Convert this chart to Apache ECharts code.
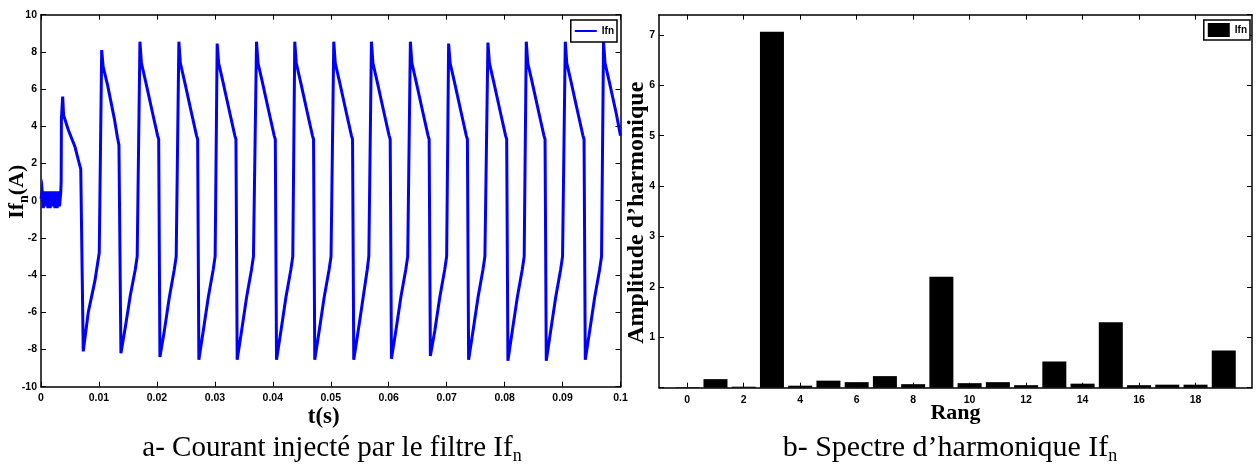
<!DOCTYPE html>
<html><head><meta charset="utf-8">
<script src="https://cdn.jsdelivr.net/npm/echarts@6/dist/echarts.min.js"></script>
<style>html,body{margin:0;padding:0;background:#fff}#c{width:1257px;height:467px}</style>
</head><body><div id="c"></div>
<script>
// ---- (a) injected current waveform ----
const timeS = [
  0,0.0002,0.0004,0.0006,0.0008,0.001,0.0012,0.0014,0.0016,0.0018,0.002,0.0022,0.0024,0.0026,0.0028,0.003,0.0032,0.0034,
  0.00348,0.00352,0.00374,0.0039,0.00472,0.00586,0.0066,0.00686,0.00729,0.00816,0.00931,0.01005,
  0.01047,0.01073,0.0115,0.01266,0.01319,0.01345,0.01379,0.01455,0.01541,0.01627,0.0166,
  0.01707,0.01733,0.0181,0.01926,0.02012,0.02031,0.02052,0.02128,0.02214,0.023,0.02333,
  0.02379,0.02405,0.02482,0.02598,0.02684,0.02703,0.02724,0.028,0.02886,0.02972,0.03005,
  0.0304,0.03066,0.03143,0.03259,0.03345,0.03364,0.03385,0.03461,0.03547,0.03633,0.03666,
  0.03719,0.03745,0.03822,0.03938,0.04024,0.04043,0.04064,0.0414,0.04226,0.04312,0.04345,
  0.04379,0.04405,0.04482,0.04598,0.04684,0.04703,0.04724,0.048,0.04886,0.04972,0.05005,
  0.05052,0.05078,0.05155,0.05271,0.05357,0.05376,0.05397,0.05473,0.05559,0.0563,0.05657,
  0.05702,0.05728,0.05805,0.05921,0.06007,0.06026,0.06047,0.06123,0.06209,0.06295,0.06328,
  0.06374,0.064,0.06477,0.06593,0.06679,0.06698,0.06719,0.06795,0.06881,0.06967,0.07,
  0.07034,0.0706,0.07137,0.07253,0.07339,0.07358,0.07379,0.07455,0.07541,0.07627,0.0766,
  0.07712,0.07738,0.07815,0.07931,0.08017,0.08036,0.08057,0.08133,0.08219,0.08305,0.08338,
  0.08374,0.084,0.08477,0.08593,0.08679,0.08698,0.08719,0.08795,0.08881,0.08967,0.09,
  0.09047,0.09073,0.0915,0.09266,0.09352,0.09371,0.09392,0.09468,0.09554,0.0964,0.09673,
  0.09707,0.09733,0.0981,0.09926,0.1
];
const ifnA = [
  0.1,0.5,-0.4,0.5,-0.3,0.5,-0.4,0.5,-0.4,0.5,-0.3,0.5,-0.4,0.5,-0.4,0.5,-0.3,0.4,
  1.0,4.4,5.6,4.6,3.8,2.9,2.0,1.7,-8.1,-6.0,-4.3,-2.8,
  8.1,7.2,6.2,4.4,3.4,3.0,-8.2,-6.8,-5.1,-3.7,-3.0,
  8.55,7.4,6.35,4.7,3.5,3.3,-8.4,-7.0,-5.2,-3.7,-3.0,
  8.55,7.4,6.35,4.7,3.5,3.3,-8.55,-7.0,-5.2,-3.7,-3.0,
  8.45,7.4,6.35,4.7,3.5,3.3,-8.55,-7.0,-5.2,-3.7,-3.0,
  8.55,7.4,6.35,4.7,3.5,3.3,-8.55,-7.0,-5.2,-3.7,-3.0,
  8.55,7.4,6.35,4.7,3.5,3.3,-8.55,-7.0,-5.2,-3.7,-3.0,
  8.55,7.4,6.35,4.7,3.5,3.3,-8.55,-7.0,-5.2,-3.7,-3.0,
  8.55,7.4,6.35,4.7,3.5,3.3,-8.5,-7.0,-5.2,-3.7,-3.0,
  8.55,7.4,6.35,4.7,3.5,3.3,-8.35,-7.0,-5.2,-3.7,-3.0,
  8.45,7.4,6.35,4.7,3.5,3.3,-8.55,-7.0,-5.2,-3.7,-3.0,
  8.5,7.4,6.35,4.7,3.5,3.3,-8.6,-7.0,-5.2,-3.7,-3.0,
  8.55,7.4,6.35,4.7,3.5,3.3,-8.6,-7.0,-5.2,-3.7,-3.0,
  8.55,7.4,6.35,4.7,3.5,3.3,-8.55,-7.0,-5.2,-3.7,-3.0,
  8.55,7.4,6.35,4.7,3.5
];
// ---- (b) harmonic spectrum ----
const rang = [0,1,2,3,4,5,6,7,8,9,10,11,12,13,14,15,16,17,18,19];
const amplitude = [0.01,0.17,0.02,7.06,0.04,0.14,0.11,0.23,0.07,2.2,0.09,0.11,0.05,0.52,0.08,1.3,0.05,0.06,0.06,0.74];
const rangTicks = [0,2,4,6,8,10,12,14,16,18];

const serif = "'Liberation Serif','Times New Roman',serif";
const sans = "'Liberation Sans Narrow','Arial Narrow','Liberation Sans',Arial,sans-serif";
const tickFont = {fontFamily: sans, fontWeight: 'bold', fontSize: 10.5, color: '#000'};
const axLine = {show: true, onZero: false, lineStyle: {color: '#000', width: 1.5}};
const tick = {show: true, inside: true, length: 5, lineStyle: {color: '#000', width: 1}};

const chart = echarts.init(document.getElementById('c'), null, {renderer: 'canvas'});
const waveData = timeS.map((t, i) => [t, ifnA[i]]);
const barData = rang.map((r, i) => [r, amplitude[i]]);

chart.setOption({
  animation: false,
  backgroundColor: '#fff',
  grid: [
    {left: 41, right: 636.5, top: 14.7, bottom: 80.3, containLabel: false, outerBoundsMode: 'none'},
    {left: 659, right: 5, top: 14.7, bottom: 79.3, containLabel: false, outerBoundsMode: 'none'}
  ],
  xAxis: [
    {gridIndex: 0, type: 'value', min: 0, max: 0.1, interval: 0.01, position: 'bottom',
     axisLine: axLine, axisTick: tick, splitLine: {show: false},
     axisLabel: Object.assign({margin: 6, formatter: v => v === 0 ? '0' : String(+v.toFixed(2))}, tickFont),
     name: 't(s)', nameLocation: 'middle', nameGap: 19, nameMoveOverlap: false,
     nameTextStyle: {fontFamily: serif, fontWeight: 'bold', fontSize: 23, color: '#000', padding: [0, 14, 0, 0]}},
    {gridIndex: 0, type: 'value', min: 0, max: 0.1, interval: 0.01, position: 'top',
     axisLine: axLine, axisTick: tick, axisLabel: {show: false}, splitLine: {show: false}},
    {gridIndex: 1, type: 'value', min: -1, max: 20, position: 'bottom',
     axisLine: axLine, axisTick: Object.assign({customValues: rangTicks}, tick), splitLine: {show: false},
     axisLabel: Object.assign({margin: 7, customValues: rangTicks}, tickFont),
     name: 'Rang', nameLocation: 'middle', nameGap: 15, nameMoveOverlap: false,
     nameTextStyle: {fontFamily: serif, fontWeight: 'bold', fontSize: 22, color: '#000'}},
    {gridIndex: 1, type: 'value', min: -1, max: 20, position: 'top',
     axisLine: axLine, axisTick: Object.assign({customValues: rangTicks}, tick), axisLabel: {show: false}, splitLine: {show: false}}
  ],
  yAxis: [
    {gridIndex: 0, type: 'value', min: -10, max: 10, interval: 2, position: 'left',
     axisLine: axLine, axisTick: tick, splitLine: {show: false},
     axisLabel: Object.assign({margin: 4}, tickFont),
     name: '{m|If}{s|n}{m|(A)}', nameLocation: 'middle', nameGap: 10, nameMoveOverlap: false,
     nameTextStyle: {fontFamily: serif, fontWeight: 'bold', fontSize: 22, color: '#000', padding: [0, 0, 0, 18],
       rich: {m: {fontFamily: serif, fontWeight: 'bold', fontSize: 22, lineHeight: 28, verticalAlign: 'middle', color: '#000'},
              s: {fontFamily: serif, fontWeight: 'bold', fontSize: 14, lineHeight: 14, verticalAlign: 'bottom', color: '#000'}}}},
    {gridIndex: 0, type: 'value', min: -10, max: 10, interval: 2, position: 'right',
     axisLine: axLine, axisTick: tick, axisLabel: {show: false}, splitLine: {show: false}},
    {gridIndex: 1, type: 'value', min: 0, max: 7.4, interval: 1, position: 'left',
     axisLine: axLine, axisTick: tick, splitLine: {show: false},
     axisLabel: Object.assign({margin: 4, showMaxLabel: false, formatter: v => (v === 0 || v > 7) ? '' : String(v)}, tickFont),
     name: 'Amplitude d’harmonique', nameLocation: 'middle', nameGap: 10, nameMoveOverlap: false,
     nameTextStyle: {fontFamily: serif, fontWeight: 'bold', fontSize: 24, color: '#000', padding: [0, 23, 0, 0]}},
    {gridIndex: 1, type: 'value', min: 0, max: 7.4, interval: 1, position: 'right',
     axisLine: axLine, axisTick: tick, axisLabel: {show: false}, splitLine: {show: false}}
  ],
  legend: [
    {data: ['Ifn_a'], right: 640, top: 20, orient: 'vertical', formatter: () => 'Ifn', icon: 'rect',
     backgroundColor: '#fff', borderColor: '#000', borderWidth: 1.5, borderRadius: 0, padding: [5, 3, 5, 4],
     itemWidth: 22, itemHeight: 2, textStyle: {fontFamily: sans, fontWeight: 'bold', fontSize: 10, lineHeight: 12, color: '#000'}},
    {data: ['Ifn_b'], right: 7, top: 20, orient: 'vertical', formatter: () => 'Ifn', icon: 'rect',
     backgroundColor: '#fff', borderColor: '#000', borderWidth: 1.5, borderRadius: 0, padding: [3, 3, 3, 4],
     itemWidth: 22, itemHeight: 14, textStyle: {fontFamily: sans, fontWeight: 'bold', fontSize: 10, color: '#000'}}
  ],
  series: [
    {name: 'Ifn_a', type: 'line', xAxisIndex: 0, yAxisIndex: 0, data: waveData, symbol: 'none',
     lineStyle: {color: '#0000ff', width: 3, join: 'miter'}, itemStyle: {color: '#0000ff'}},
    {name: 'Ifn_b', type: 'bar', xAxisIndex: 2, yAxisIndex: 2, data: barData, barWidth: 24,
     itemStyle: {color: '#000'}}
  ],
  graphic: [
    {type: 'text', x: 332, y: 448, style: {text: '{m|a- Courant injecté par le filtre If}{s|n}', align: 'center', verticalAlign: 'middle',
      rich: {m: {fontFamily: serif, fontSize: 29, lineHeight: 34, verticalAlign: 'middle', fill: '#000'},
             s: {fontFamily: serif, fontSize: 18, lineHeight: 18, verticalAlign: 'bottom', fill: '#000'}}}},
    {type: 'text', x: 950, y: 448, style: {text: '{m|b- Spectre d’harmonique If}{s|n}', align: 'center', verticalAlign: 'middle',
      rich: {m: {fontFamily: serif, fontSize: 30, lineHeight: 34, verticalAlign: 'middle', fill: '#000'},
             s: {fontFamily: serif, fontSize: 18, lineHeight: 18, verticalAlign: 'bottom', fill: '#000'}}}}
  ]
});
</script></body></html>
